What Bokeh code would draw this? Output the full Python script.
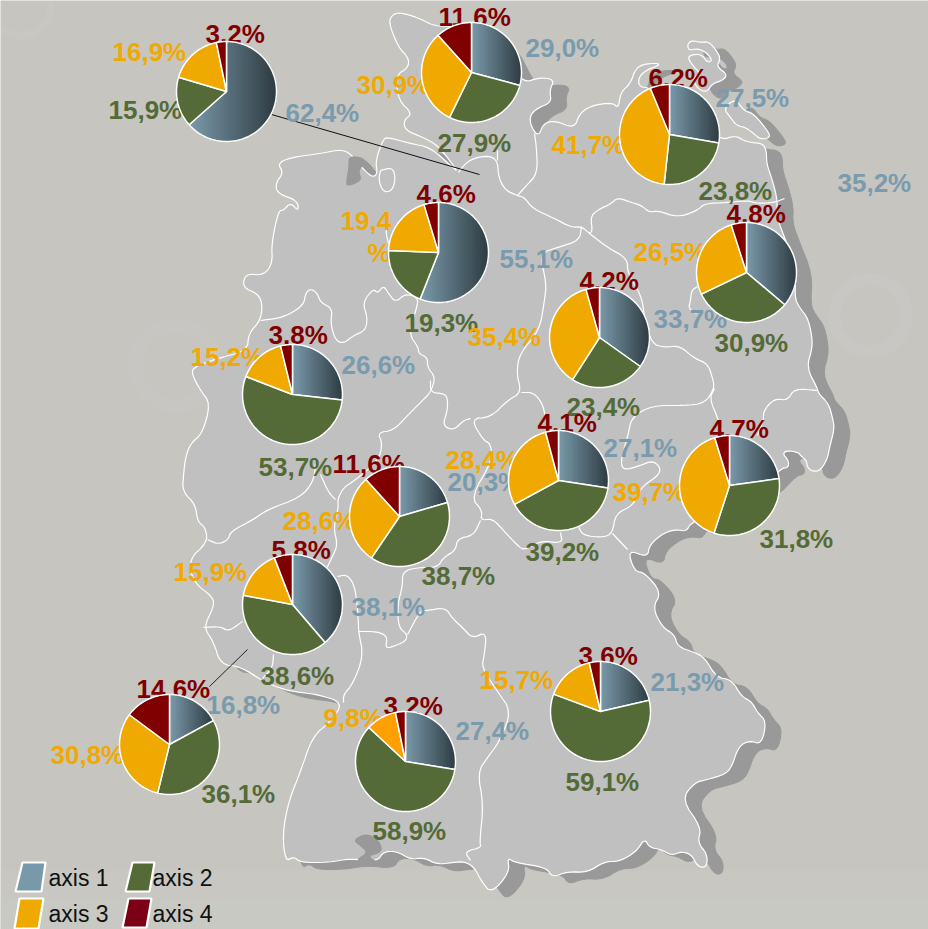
import math
from bokeh.plotting import figure
from bokeh.models import Range1d
from bokeh.core.properties import value
from bokeh.embed import file_html
from bokeh.resources import INLINE

# ---- data -------------------------------------------------------------
pie_cx = [226, 471, 669, 438, 746, 599, 292, 558, 729, 399, 292, 169, 405, 600]
pie_cy = [91, 72, 134, 252, 272, 337, 394, 480, 485, 516, 604, 744, 761, 711]
axis1 = [62.4, 29.0, 27.5, 55.1, 35.2, 33.7, 26.6, 27.1, 22.5, 20.3, 38.1, 16.8, 27.4, 21.3]
axis2 = [15.9, 27.9, 23.8, 19.3, 30.9, 23.4, 53.7, 39.2, 31.8, 38.7, 38.6, 36.1, 58.9, 59.1]
axis3 = [16.9, 30.9, 41.7, 19.4, 26.5, 35.4, 15.2, 28.4, 39.7, 28.6, 15.9, 30.8, 9.8, 15.7]
axis4 = [3.2, 11.6, 6.2, 4.6, 4.8, 4.2, 3.8, 4.1, 4.7, 11.6, 5.8, 14.6, 3.2, 3.6]

pos1 = [(286,122),(526,57),(716,107),(500,268),(838,192),(654,328),(342,374),(604,457),None,(448,491),(352,616),(207,714),(456,740),(651,691)]
pos2 = [(109,119),(438,152),(699,200),(405,332),(715,352),(567,416),(259,476),(526,561),(760,548),(422,585),(261,685),(202,803),(373,840),(566,791)]
pos3 = [(113,61),(357,94),(552,154),None,(634,261),(468,346),(191,366),(446,469),(613,501),(283,530),(174,581),(51,764),(324,727),(480,689)]
pos4 = [(206,43),(439,26),(649,87),(417,203),(727,223),(580,290),(269,344),(538,432),(710,438),(333,473),(272,559),(137,698),(384,715),(579,665)]

BLUE_L, BLUE_R = (0x7a, 0x9a, 0xaa), (0x2e, 0x3b, 0x42)
BLUE_T, GREEN, YELLOW, RED = "#7a9bad", "#556b37", "#f0a900", "#800000"
ORANGE = "#ff9f00"
LEGEND_COLORS = ["#7899a9", "#556b37", "#f0a900", "#7c0015"]
legend_names = ["axis 1", "axis 2", "axis 3", "axis 4"]

# ---- map trace (decoration behind the pies) ---------------------------
outer = [(388,22),(392,14),(400,12),(417,17),(437,27),(471,25),(500,40),(515,70),(524,82),(539,77),(554,79),(549,90),(551,102),(536,108),(529,116),(531,127),(538,136),(543,123),(554,120),(574,128),(579,113),(591,105),(612,102),(618,108),(620,92),(630,83),(635,68),(645,63),(663,63),(640,72),(637,86),(652,88),(669,110),(719,140),(735,135),(743,140),(751,142),(762,143),(766,150),(766,163),(772,180),(777,200),(776,215),(782,232),(796,267),(794,297),(799,307),(807,317),(811,333),(812,347),(806,367),(817,388),(818,393),(828,403),(832,417),(834,428),(829,447),(827,458),(820,470),(812,471),(807,467),(806,460),(800,455),(798,452),(787,450),(782,453),(788,460),(788,467),(780,468),(760,490),(691,521),(686,531),(676,529),(664,532),(649,544),(647,557),(627,549),(634,571),(644,572),(661,592),(652,607),(662,627),(674,634),(677,646),(694,652),(704,657),(716,677),(731,679),(741,696),(751,701),(757,712),(766,721),(761,744),(749,740),(738,746),(731,767),(724,774),(707,779),(694,782),(681,799),(701,827),(697,842),(707,854),(706,867),(697,866),(691,854),(681,851),(671,855),(661,849),(649,847),(644,838),(636,851),(619,861),(604,861),(587,872),(567,871),(552,877),(546,867),(514,862),(507,857),(509,872),(491,893),(481,881),(474,867),(464,861),(452,862),(437,864),(423,857),(410,859),(397,851),(383,851),(377,861),(350,858),(328,862),(300,862),(293,856),(285,861),(282,834),(288,801),(300,771),(312,736),(330,721),(343,702),(317,694),(300,692),(283,689),(263,681),(240,666),(220,664),(213,641),(203,627),(213,607),(213,597),(193,582),(188,559),(207,542),(205,527),(197,521),(195,504),(182,491),(183,474),(185,457),(190,443),(202,433),(210,403),(200,390),(192,375),(192,367),(217,358),(247,350),(248,333),(260,320),(262,303),(257,293),(242,287),(245,273),(263,275),(272,263),(271,243),(278,210),(283,210),(290,202),(298,211),(297,200),(277,193),(275,183),(283,172),(277,163),(290,157),(320,153),(340,149),(350,153),(362,168),(372,177),(377,173),(375,160),(383,138),(388,137),(410,143),(430,147),(450,165),(458,172),(447,157),(437,145),(423,137),(405,130),(403,120),(412,113),(398,100),(395,75),(408,67),(408,57),(398,47)]
ruegen = [(687,43),(692,40),(700,42),(708,41),(716,50),(720,58),(716,66),(727,74),(722,80),(712,83),(706,92),(697,88),(692,78),(700,73),(693,66),(687,57),(692,54),(701,54),(707,62),(712,60),(706,52),(697,48),(688,50)]
usedom = [(735,98),(743,110),(753,113),(767,130),(770,137),(760,139),(752,132),(745,127),(736,125),(730,117),(723,108)]
borders = [
 [(458,172),(463,165),(472,158),(488,155),(497,160),(498,177),(505,190),(517,195)],
 [(497,160),(497,150)],
 [(517,195),(526,185),(537,173),(536,147),(534,133)],
 [(517,195),(524,197),(532,208),(554,218),(571,227),(581,226),(589,233),(607,247),(627,258),(627,273),(641,295),(644,317),(651,343),(664,347),(679,345),(694,358),(707,363),(712,377),(714,388),(704,403),(684,405),(651,405),(631,417),(628,433),(620,460),(623,470),(640,465),(652,460),(660,467),(658,475),(640,487),(633,505),(615,513),(612,533),(602,537),(583,535),(578,527),(575,510)],
 [(612,533),(627,549)],
 [(714,388),(709,398),(717,417),(721,430)],
 [(757,435),(763,420),(763,410),(774,398),(787,400),(794,388),(817,390)],
 [(589,233),(592,230),(590,217),(596,210),(611,203),(617,197),(631,202),(641,205),(649,212),(657,210),(677,217),(697,210),(704,203),(727,202),(747,200),(757,203),(774,202),(784,198)],
 [(697,286),(691,290),(690,300),(688,308),(696,313)],
 [(581,226),(579,240),(557,247),(539,253),(546,283),(544,300),(539,330),(519,353),(516,373),(521,392),(507,400),(490,417),(470,418),(483,440),(490,443),(492,460),(470,497),(482,510),(480,520),(492,518),(503,530),(517,545),(524,550),(540,540),(562,543),(560,532)],
 [(521,392),(533,392),(542,403),(545,417)],
 [(430,380),(430,392),(443,393),(447,397),(447,410),(442,425),(453,430),(463,420),(470,418)],
 [(260,320),(283,317),(303,305),(305,293),(310,288),(317,293),(320,302),(332,308),(330,323),(335,340),(343,343),(353,335),(365,330),(367,317),(362,302),(373,288),(377,293),(383,285),(388,293),(395,302),(405,293),(417,297),(417,305),(408,333),(418,347),(418,353),(427,357),(427,367),(435,377),(430,392),(422,400),(407,415),(393,430),(377,432),(382,443),(378,460),(353,481),(343,487),(337,499),(338,507),(333,527),(337,544),(333,554),(325,570)],
 [(337,576),(347,574),(355,587),(358,621),(358,631),(363,656),(352,684),(343,694),(343,702)],
 [(383,213),(388,220),(385,230),(388,243)],
 [(380,170),(392,167),(395,177),(392,190),(383,192),(378,180),(380,170)],
 [(315,464),(313,481),(300,497),(267,509),(253,519),(230,531),(228,539),(218,544),(207,539)],
 [(320,474),(328,492),(335,499)],
 [(203,627),(220,626),(228,631),(242,621)],
 [(273,654),(272,667),(262,678)],
 [(480,520),(473,535),(457,538),(455,550),(443,557),(437,567),(417,567),(402,571),(402,586),(397,604),(398,627),(407,634),(405,641),(390,647),(385,647),(387,636),(377,631),(358,631)],
 [(407,634),(420,610),(427,610),(445,607),(452,618),(463,628),(472,638),(486,631),(484,654),(481,667),(497,691),(511,711),(499,741),(487,757),(477,772),(483,804),(479,842),(481,847),(464,851),(470,860)],
]
gray_lakes = [
 [(348,155),(363,157),(365,163),(358,170),(362,180),(348,186),(345,183),(348,167)],
 [(352,839),(367,832),(380,841),(382,852),(367,856),(378,861),(363,866),(355,859),(367,852),(360,846)],
]
faint = [(870,315,36,12,0.05,"#ffffff"),(20,5,30,7,0.05,"#ffffff"),(175,365,40,14,0.03,"#ffffff")]

def chaikin(pts, closed):
    for _ in range(2):
        out = [] if closed else [pts[0]]
        n = len(pts)
        for i in range(n if closed else n - 1):
            a, b = pts[i], pts[(i + 1) % n]
            out.append((0.75 * a[0] + 0.25 * b[0], 0.75 * a[1] + 0.25 * b[1]))
            out.append((0.25 * a[0] + 0.75 * b[0], 0.25 * a[1] + 0.75 * b[1]))
        if not closed:
            out.append(pts[-1])
        pts = out
    return pts

W, H = 928, 929
BG = "#c6c5c0"
p = figure(width=W, height=H, output_backend="svg", toolbar_location=None,
           x_range=Range1d(0, W), y_range=Range1d(H, 0), x_axis_type=None, y_axis_type=None,
           min_border=0, margin=0, background_fill_color=BG,
           border_fill_color=BG, outline_line_color=None)
p.grid.visible = False

# background
p.quad(left=[0, 0], right=[W, W], top=[870, 900], bottom=[H, H], fill_color="#cdccc7", fill_alpha=0.3, line_color=None)
for cx, cy, r, lw, a, c in faint:
    p.circle(x=[cx], y=[cy], radius=r, fill_color=None, line_color=c, line_alpha=a, line_width=lw)

# map
sx, sy = 16, 7
polys = [chaikin(q, True) for q in (outer, ruegen, usedom)]
p.patches([[x + sx for x, _ in q] for q in polys], [[y + sy for _, y in q] for q in polys],
          fill_color="#999999", line_color="#999999", line_width=1)
p.patches([[x for x, _ in q] for q in polys], [[y for _, y in q] for q in polys],
          fill_color="#c0c0c0", line_color="#ffffff", line_width=1.2)
lakes = [chaikin(q, True) for q in gray_lakes]
p.patches([[x for x, _ in q] for q in lakes], [[y for _, y in q] for q in lakes],
          fill_color="#999999", line_color=None)
lines = [chaikin(b, False) for b in borders]
p.multi_line([[x for x, _ in b] for b in lines], [[y for _, y in b] for b in lines],
             line_color="#ffffff", line_width=1.2)

# leader lines
p.segment(x0=[271], y0=[114], x1=[479], y1=[174], line_color="#111111", line_width=1)
p.segment(x0=[209], y0=[686], x1=[247], y1=[649], line_color="#222222", line_width=1)

# value labels
def fmt(v):
    return f"{v:.1f}".replace(".", ",") + "%"

LABEL_DX, LABEL_DY = -1, -10
tx, ty, tt, tc = [], [], [], []
for vals, pos, col in [(axis1, pos1, BLUE_T), (axis2, pos2, GREEN), (axis3, pos3, YELLOW), (axis4, pos4, RED)]:
    for v, q in zip(vals, pos):
        if q is None:
            continue
        tx.append(q[0] + LABEL_DX); ty.append(q[1] + LABEL_DY); tt.append(fmt(v)); tc.append(col)
# wrapped label of the fourth pie
wrapped = fmt(axis3[3])
tx += [341 + LABEL_DX, 368 + LABEL_DX]; ty += [230 + LABEL_DY, 262 + LABEL_DY]; tt += [wrapped[:-1], wrapped[-1]]; tc += [YELLOW, YELLOW]
p.text(x=tx, y=ty, text=tt, text_color=tc, text_font=value("Liberation Sans"), text_font_style="bold",
       text_font_size="26px", text_align="left", text_baseline="alphabetic")

# pies
R = 50
def sector(cx, cy, a0, a1):
    n = max(2, int(abs(a1 - a0) / 1.5))
    pts = [(cx, cy)]
    for i in range(n + 1):
        a = math.radians(a0 + (a1 - a0) * i / n)
        pts.append((cx + R * math.sin(a), cy - R * math.cos(a)))
    return pts

def clip_left(pts, xv):
    out = []
    for i, c in enumerate(pts):
        d = pts[i - 1]
        if (c[0] >= xv) != (d[0] >= xv):
            out.append((xv, d[1] + (c[1] - d[1]) * (xv - d[0]) / (c[0] - d[0])))
        if c[0] >= xv:
            out.append(c)
    return out

for i, (cx, cy) in enumerate(zip(pie_cx, pie_cy)):
    vals = [axis1[i], axis2[i], axis3[i], axis4[i]]
    total = sum(vals)
    cols = [None, GREEN, ORANGE if vals[2] < 10 else YELLOW, RED]
    a = 0.0
    for v, col in zip(vals, cols):
        b = a + 360.0 * v / total
        sec = sector(cx, cy, a, b)
        if col is None:
            x0, x1 = min(q[0] for q in sec), max(q[0] for q in sec)
            n = max(1, int((x1 - x0) / 2))
            xs, ys, cs = [], [], []
            for k in range(n):
                c = clip_left(sec, x0 + (x1 - x0) * k / n)
                if len(c) >= 3:
                    t = (k + 0.5) / n
                    rgb = [round(u + (w - u) * t) for u, w in zip(BLUE_L, BLUE_R)]
                    xs.append([q[0] for q in c]); ys.append([q[1] for q in c])
                    cs.append("#%02x%02x%02x" % tuple(rgb))
            p.patches(xs, ys, fill_color=cs, line_color=None)
            p.patch([q[0] for q in sec], [q[1] for q in sec], fill_color=None, line_color="#ffffff", line_width=1.5)
        else:
            p.patch([q[0] for q in sec], [q[1] for q in sec], fill_color=col, line_color="#ffffff", line_width=1.5)
        a = b

# legend
sw_x = [[22, 45, 41, 15], [132, 154, 149, 125], [19, 43, 38, 14], [128, 151, 146, 122]]
sw_y = [[862, 862, 891, 891], [862, 862, 891, 891], [898, 898, 928, 928], [898, 898, 927, 927]]
p.patches(sw_x, sw_y, fill_color=LEGEND_COLORS, line_color="#ffffff", line_width=2.2)
p.text(x=[48, 152, 48, 152], y=[877, 877, 913, 913], text=legend_names, text_color="#111111",
       text_font=value("Liberation Sans"), text_font_size="23px", text_align="left", text_baseline="alphabetic")

open("out.html", "w").write(file_html(p, INLINE))
